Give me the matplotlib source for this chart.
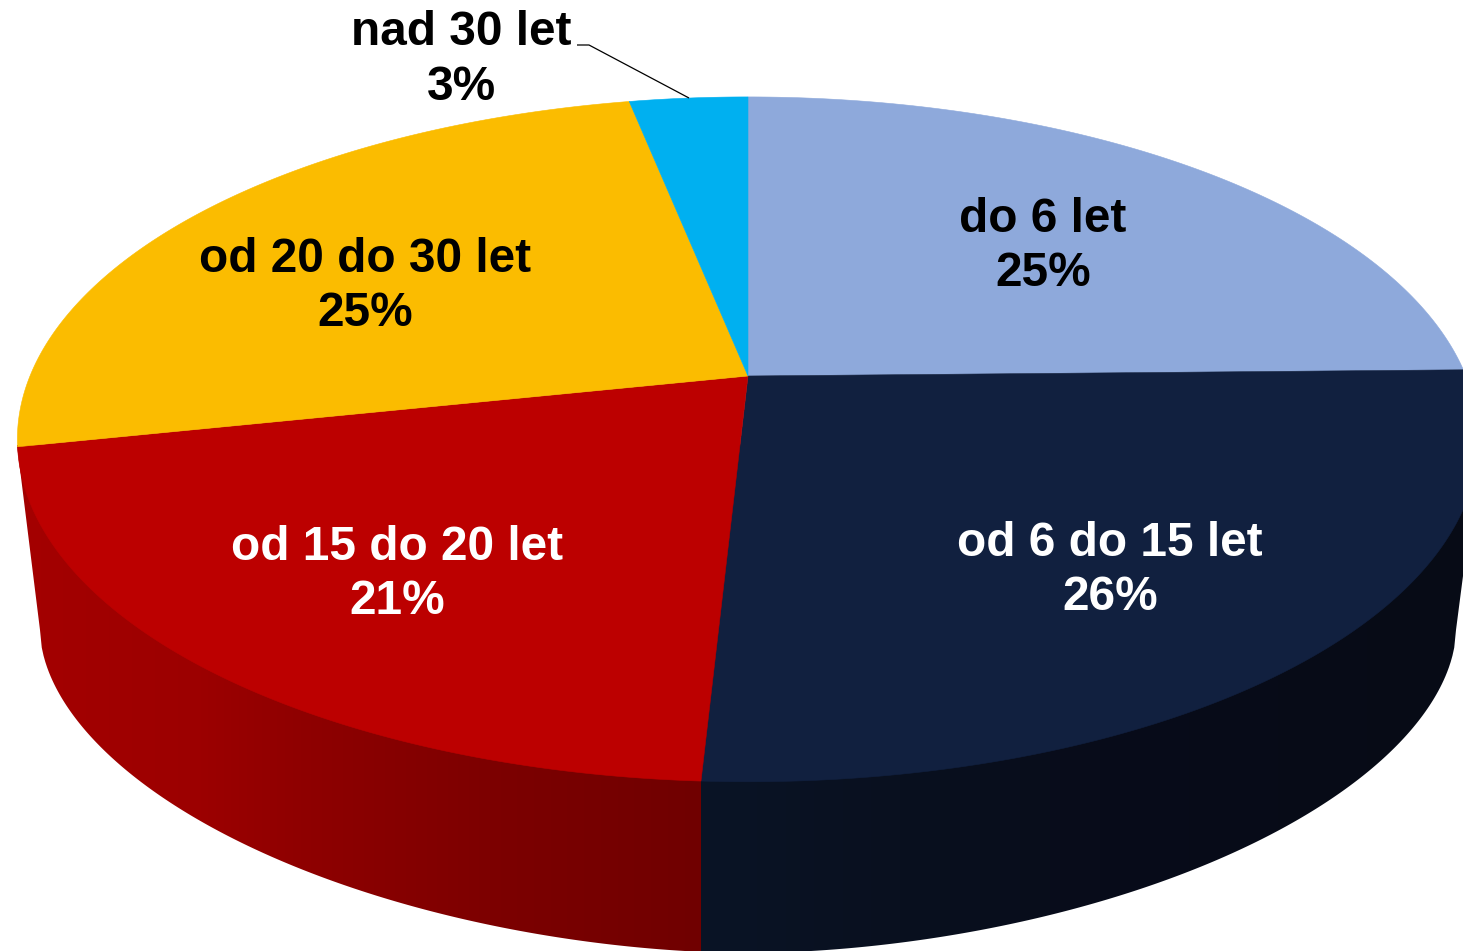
import numpy as np
import matplotlib
matplotlib.use("Agg")
import matplotlib.pyplot as plt
from matplotlib.patches import Polygon
from matplotlib.colors import to_rgb

# --- data ---
categories = ["do 6 let", "od 6 do 15 let", "od 15 do 20 let", "od 20 do 30 let", "nad 30 let"]
values = [24.7, 26.15, 20.85, 25.17, 3.13]
shown_pct = [25, 26, 21, 25, 3]
colors = ["#8EA9DB", "#11203F", "#BC0000", "#FBBC00", "#00B0F0"]
label_colors = ["black", "white", "white", "black", "black"]
label_pos = [(1043, 246.5), (1110, 570.5), (397, 574.5), (365, 286.5), (461, 60)]

W, H = 1463, 951
fig = plt.figure(figsize=(W / 100, H / 100), dpi=100)
ax = fig.add_axes([0, 0, 1, 1])
ax.set_xlim(0, W)
ax.set_ylim(H, 0)
ax.axis("off")

# perspective projection of the disc
CX, CY, A, B, C = 748.0, 376.0, 718.0, 330.7, -0.185


def project(theta):
    s, t = np.sin(theta), -np.cos(theta)
    d = 1 + C * t
    return CX + A * s / d, CY + B * t / d


# side wall
BA, BB, BCY, P = 708.0, 323.0, 630.0, 1.85
xs = np.linspace(CX - BA, CX + BA, 800)
ys = BCY + BB * (1 - np.abs((xs - CX) / BA) ** P) ** (1 / P)
outline = np.vstack([[(17, 445)], np.column_stack([xs, ys]), [(1480, 445)]])
clip = Polygon(outline, closed=True, fc="none", ec="none", transform=ax.transData)
ax.add_patch(clip)

edges = np.cumsum([0] + values) / sum(values) * 2 * np.pi
split_x = project(edges[2])[0]

grad_x = np.arange(0, W + 1)
red = np.array([40, 200, 300, 500, split_x])
red_c = np.array([to_rgb(c) for c in ["#A30000", "#9C0000", "#8F0000", "#7C0000", "#700000"]])
navy = np.array([split_x, 900, 1100, 1456])
navy_c = np.array([to_rgb(c) for c in ["#0A1426", "#09101F", "#080C1A", "#070B16"]])
img = np.zeros((1, len(grad_x), 3))
for i in range(3):
    img[0, :, i] = np.where(
        grad_x < split_x,
        np.interp(grad_x, red, red_c[:, i]),
        np.interp(grad_x, navy, navy_c[:, i]),
    )
im = ax.imshow(img, extent=(0, W, 960, 400), aspect="auto", interpolation="nearest", zorder=1)
ax.set_xlim(0, W)
ax.set_ylim(H, 0)
im.set_clip_path(clip)

# top face
for i, col in enumerate(colors):
    th = np.linspace(edges[i], edges[i + 1], 300)
    x, y = project(th)
    pts = np.vstack([[(CX, CY)], np.column_stack([x, y])])
    ax.add_patch(Polygon(pts, closed=True, fc=col, ec=col, lw=0.4, zorder=2))

# leader line
ax.plot([577, 589, 689], [45, 45, 98], color="black", lw=0.9, zorder=3, solid_capstyle="butt")

# labels
for name, pct, pos, col in zip(categories, shown_pct, label_pos, label_colors):
    ax.text(pos[0], pos[1], f"{name}\n{pct}%", ha="center", va="center", color=col,
            family="Liberation Sans", fontweight="bold", fontsize=34.4, linespacing=1.26,
            zorder=4)

fig.savefig("out.png", dpi=100, facecolor="white")
